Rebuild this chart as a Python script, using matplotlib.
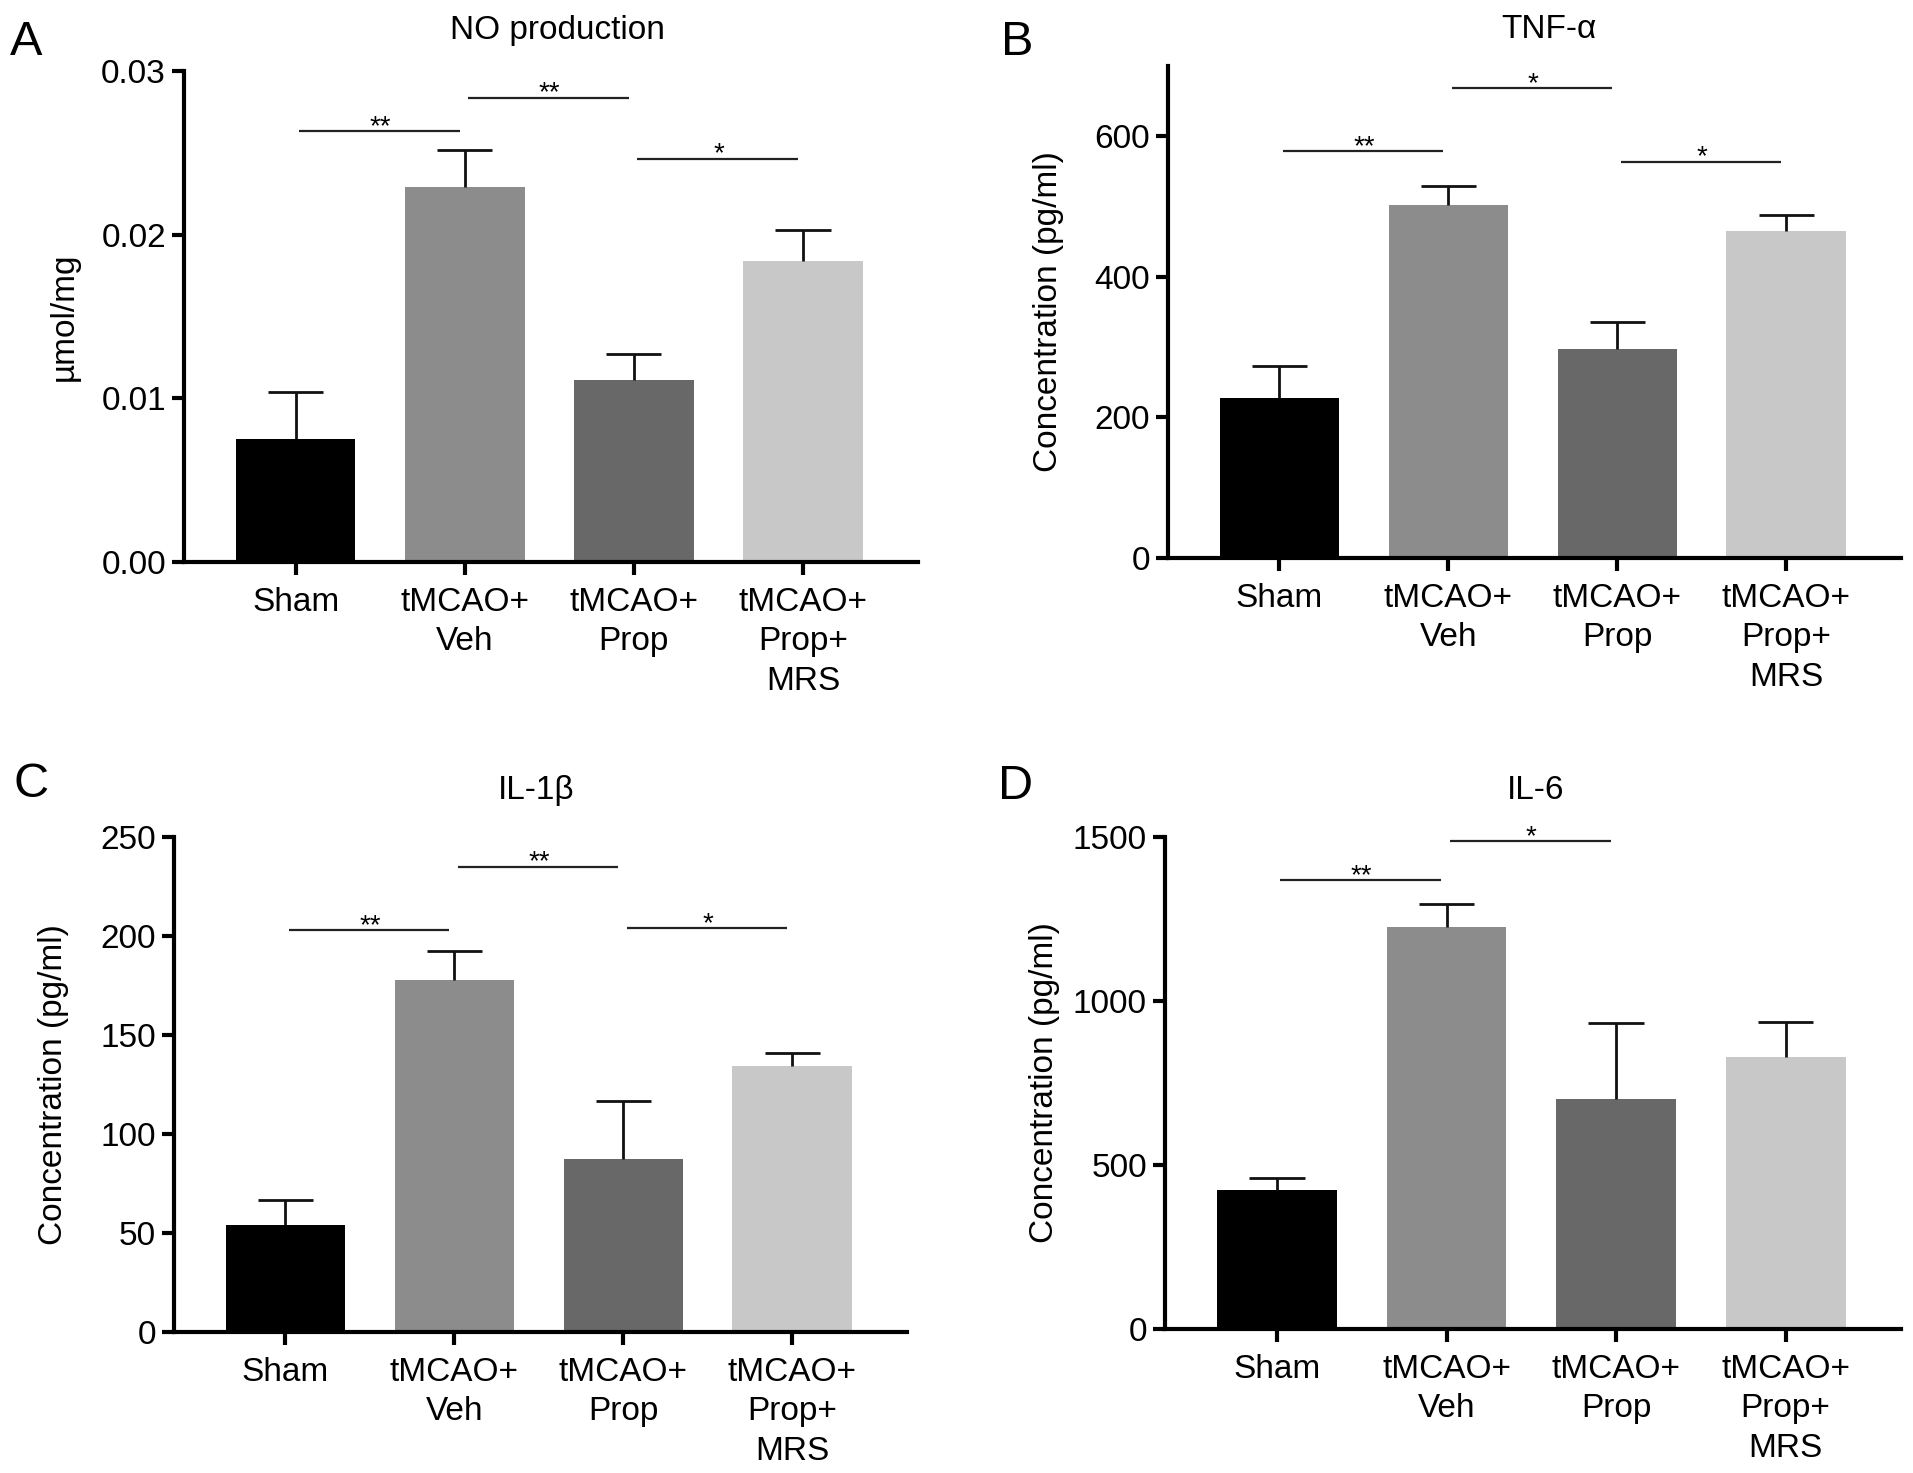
import matplotlib
matplotlib.use('Agg')
import matplotlib.pyplot as plt
import numpy as np

plt.rcParams['font.family'] = ['Liberation Sans', 'DejaVu Sans']

groups = ['Sham', 'tMCAO+\nVeh', 'tMCAO+\nProp', 'tMCAO+\nProp+\nMRS']
bar_colors = ['#000000', '#8c8c8c', '#686868', '#c8c8c8']

# panel A - NO production
no_mean = [0.0075, 0.0229, 0.0111, 0.0184]
no_err = [0.0029, 0.0023, 0.0016, 0.0019]
no_sig = [(0, 1, 0.02633, '**'), (1, 2, 0.02837, '**'), (2, 3, 0.02464, '*')]

# panel B - TNF-a
tnf_mean = [228, 502, 298, 465]
tnf_err = [45, 27, 38, 23]
tnf_sig = [(0, 1, 579, '**'), (1, 2, 668, '*'), (2, 3, 564, '*')]

# panel C - IL-1b
il1_mean = [54, 178, 87.5, 134.5]
il1_err = [12.5, 14.5, 29, 6.5]
il1_sig = [(0, 1, 203, '**'), (1, 2, 235, '**'), (2, 3, 204, '*')]

# panel D - IL-6
il6_mean = [425, 1227, 702, 830]
il6_err = [36, 69, 230, 107]
il6_sig = [(0, 1, 1369, '**'), (1, 2, 1487, '*')]

W, H = 1913, 1473
fig = plt.figure(figsize=(W / 100, H / 100), dpi=100)


def box(l, r, t, b):
    return [l / W, 1 - b / H, (r - l) / W, (b - t) / H]


def panel(rect, mean, err, sig, ylim, yticks, fmt, ylabel, title, tpos, letter, lpos):
    ax = fig.add_axes(rect)
    x = np.arange(len(mean))
    mean = np.array(mean, dtype=float)
    top = mean + np.array(err, dtype=float)
    ax.bar(x, mean, width=0.707, color=bar_colors, zorder=2)
    # upper error bars only
    ax.vlines(x, mean, top, color='#111111', lw=2, zorder=3)
    ax.hlines(top, x - 0.163, x + 0.163, color='#111111', lw=2, zorder=3)
    for i, j, y, s in sig:
        ax.plot([i + 0.02, j - 0.03], [y, y], color='#222222', lw=1.6,
                solid_capstyle='butt', zorder=3)
        ax.annotate(s, ((i + j) / 2, y), xytext=(0, -2), textcoords='offset points',
                    ha='center', va='baseline', fontsize=20)
    ax.set_xlim(-0.66, 3.68)
    ax.set_ylim(*ylim)
    ax.set_yticks(yticks)
    ax.set_yticklabels([fmt % v for v in yticks])
    ax.set_xticks(x)
    ax.set_xticklabels(groups, linespacing=1.35)
    for sp in ['top', 'right']:
        ax.spines[sp].set_visible(False)
    for sp in ['left', 'bottom']:
        ax.spines[sp].set_linewidth(3)
    ax.tick_params(axis='both', width=3, length=9, labelsize=24, direction='out')
    ax.tick_params(axis='y', pad=4)
    ax.tick_params(axis='x', pad=9)
    ax.set_ylabel(ylabel, fontsize=24, va='center')
    bb = ax.get_position()
    ax.yaxis.set_label_coords(-120 / (bb.width * W), 0.5)
    fig.text(tpos[0] / W, 1 - tpos[1] / H, title, ha='center', va='baseline', fontsize=24)
    fig.text(lpos[0] / W, 1 - lpos[1] / H, letter, ha='left', va='baseline', fontsize=35)
    return ax


panel(box(184, 918, 71, 562), no_mean, no_err, no_sig, (0, 0.03),
      [0, 0.01, 0.02, 0.03], '%.2f', 'µmol/mg', 'NO production', (557, 39), 'A', (10, 55))
panel(box(1168, 1901, 66, 558), tnf_mean, tnf_err, tnf_sig, (0, 700),
      [0, 200, 400, 600], '%d', 'Concentration (pg/ml)', 'TNF-α', (1549, 38), 'B', (1001, 55))
panel(box(174, 907, 837, 1332), il1_mean, il1_err, il1_sig, (0, 250),
      [0, 50, 100, 150, 200, 250], '%d', 'Concentration (pg/ml)', 'IL-1β', (536, 799), 'C', (13, 797))
panel(box(1165, 1901, 837, 1329), il6_mean, il6_err, il6_sig, (0, 1500),
      [0, 500, 1000, 1500], '%d', 'Concentration (pg/ml)', 'IL-6', (1536, 799), 'D', (998, 799))

fig.savefig('out.png', dpi=100)
